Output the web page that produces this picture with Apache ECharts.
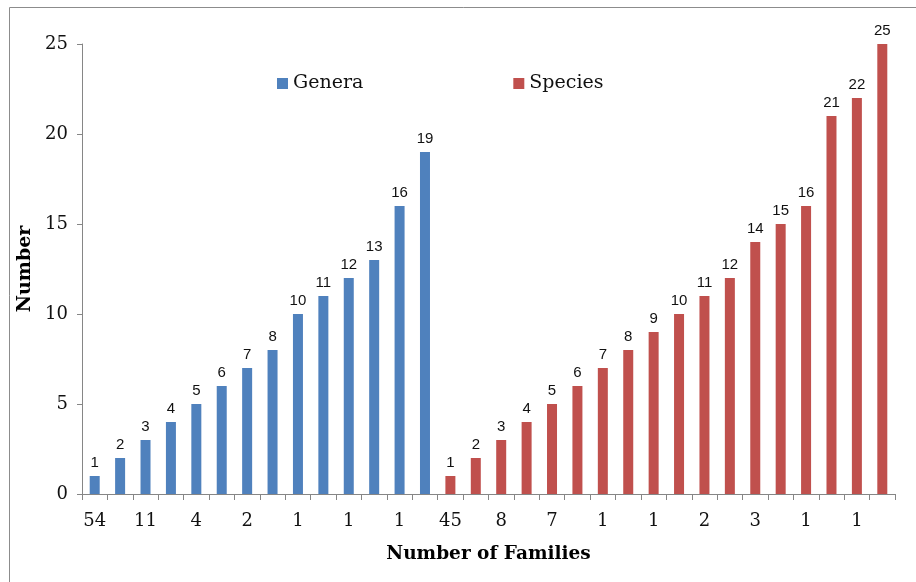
<!DOCTYPE html>
<html>
<head>
<meta charset="utf-8">
<script src="https://cdn.jsdelivr.net/npm/echarts@6/dist/echarts.min.js"></script>
<style>
html,body{margin:0;padding:0;background:#fff;}
#chart{width:916px;height:582px;}
</style>
</head>
<body>
<div id="chart"></div>
<script>
// Number of families per bar (only every other label is legible in the source; hidden ones left blank)
const familyLabels = ['54','','11','','4','','2','','1','','1','','1','',
                      '45','','8','','7','','1','','1','','2','','3','','1','','1',''];
const generaValues = [1,2,3,4,5,6,7,8,10,11,12,13,16,19];
const speciesValues = [1,2,3,4,5,6,7,8,9,10,11,12,14,15,16,21,22,25];
const yTicks = [0,5,10,15,20,25];

const nCat = familyLabels.length;
const genData = [], spData = [];
for (let i = 0; i < nCat; i++) {
  genData.push(i < generaValues.length ? generaValues[i] : null);
  const j = i - generaValues.length;
  spData.push(j >= 0 && j < speciesValues.length ? speciesValues[j] : null);
}

const serif = 'DejaVu Serif';
const chart = echarts.init(document.getElementById('chart'), null, {renderer: 'canvas'});
const barLabel = {show: true, position: 'top', distance: 6, color: '#111', fontFamily: 'Liberation Sans', fontSize: 15};
chart.setOption({
  animation: false,
  backgroundColor: '#fff',
  graphic: [{type: 'rect', left: 7, top: 5, shape: {width: 1000, height: 800},
             style: {fill: 'none', stroke: '#8c8c8c', lineWidth: 1}, silent: true}],
  legend: {
    left: 272, top: 69, itemGap: 150, itemWidth: 11, itemHeight: 11, icon: 'rect',
    textStyle: {fontFamily: serif, fontSize: 19, color: '#111'},
    data: ['Genera', 'Species']
  },
  grid: {left: 82, right: 21, top: 44, bottom: 88, containLabel: false},
  xAxis: {
    type: 'category',
    data: familyLabels.map((l, i) => String(i)),
    boundaryGap: true,
    name: 'Number of Families',
    nameLocation: 'middle',
    nameGap: 51,
    nameTextStyle: {fontFamily: serif, fontWeight: 'bold', fontSize: 18.5, color: '#000'},
    axisLine: {lineStyle: {color: '#868686', width: 1}},
    axisTick: {show: true, interval: 0, length: 6, alignWithLabel: false, lineStyle: {color: '#868686'}},
    axisLabel: {interval: 1, margin: 18, fontFamily: serif, fontSize: 18, color: '#111',
                formatter: v => familyLabels[+v]},
    splitLine: {show: false}
  },
  yAxis: {
    type: 'value', min: yTicks[0], max: yTicks[yTicks.length - 1], interval: 5,
    name: 'Number', nameLocation: 'middle', nameGap: 47, nameRotate: 90,
    nameTextStyle: {fontFamily: serif, fontWeight: 'bold', fontSize: 19, color: '#000'},
    axisLine: {show: true, lineStyle: {color: '#868686', width: 1}},
    axisTick: {show: true, length: 5, lineStyle: {color: '#868686'}},
    axisLabel: {margin: 14, fontFamily: serif, fontSize: 18, color: '#111'},
    splitLine: {show: false}
  },
  series: [
    {name: 'Genera', type: 'bar', data: genData, barWidth: 10, barGap: '-100%',
     itemStyle: {color: '#4F81BD'}, label: barLabel},
    {name: 'Species', type: 'bar', data: spData, barWidth: 10, barGap: '-100%',
     itemStyle: {color: '#C0504D'}, label: barLabel}
  ]
});
</script>
</body>
</html>
